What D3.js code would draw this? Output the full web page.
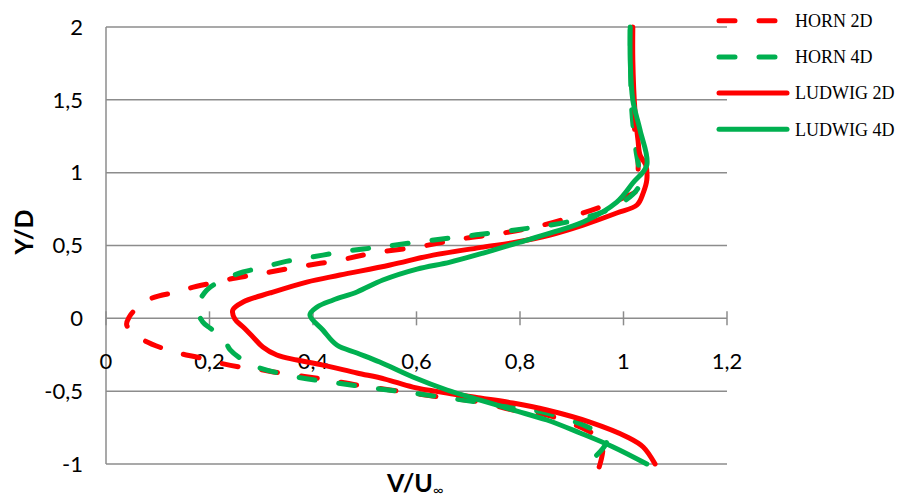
<!DOCTYPE html>
<html><head><meta charset="utf-8">
<script src="https://cdn.jsdelivr.net/npm/d3@7"></script>
<style>body{margin:0;background:#fff}svg{display:block}</style>
</head><body><svg id="c" width="899" height="500"></svg>
<script>
const xTicks = [0, 0.2, 0.4, 0.6, 0.8, 1, 1.2];
const yTicks = [-1, -0.5, 0, 0.5, 1, 1.5, 2];
const seriesNames = ["HORN 2D", "HORN 4D", "LUDWIG 2D", "LUDWIG 4D"];

// [V/U, Y/D] pairs
const horn2D = [[0.953,-1.02],[0.960,-0.882],[0.949,-0.814],[0.916,-0.746],[0.852,-0.664],[0.786,-0.629],[0.723,-0.574],[0.659,-0.547],[0.549,-0.492],[0.485,-0.458],[0.419,-0.417],[0.336,-0.375],[0.292,-0.348],[0.259,-0.334],[0.220,-0.307],[0.182,-0.272],[0.139,-0.238],[0.108,-0.204],[0.066,-0.135],[0.040,-0.046],[0.045,0.010],[0.060,0.071],[0.089,0.139],[0.137,0.181],[0.162,0.208],[0.214,0.249],[0.240,0.270],[0.284,0.297],[0.317,0.318],[0.369,0.352],[0.452,0.400],[0.516,0.448],[0.601,0.489],[0.684,0.544],[0.767,0.585],[0.844,0.640],[0.922,0.723],[0.999,0.826],[1.026,0.881],[1.028,0.984],[1.028,1.087],[1.024,1.224],[1.018,1.430],[1.016,2.0]];
const horn4D = [[0.948,-0.94],[0.968,-0.835],[0.935,-0.753],[0.852,-0.650],[0.786,-0.609],[0.690,-0.561],[0.593,-0.513],[0.529,-0.485],[0.446,-0.444],[0.369,-0.403],[0.292,-0.334],[0.265,-0.286],[0.240,-0.217],[0.226,-0.128],[0.201,-0.067],[0.187,-0.025],[0.176,0.071],[0.195,0.194],[0.226,0.263],[0.265,0.318],[0.298,0.345],[0.342,0.386],[0.375,0.407],[0.419,0.434],[0.452,0.455],[0.497,0.476],[0.529,0.489],[0.587,0.517],[0.665,0.551],[0.742,0.585],[0.819,0.620],[0.891,0.661],[0.960,0.730],[0.999,0.798],[1.028,0.894],[1.032,0.962],[1.024,1.155],[1.016,1.430],[1.013,2.0]];
const ludwig2D = [[1.061,-1.0],[1.038,-0.883],[1.007,-0.814],[0.935,-0.712],[0.852,-0.629],[0.786,-0.581],[0.723,-0.547],[0.659,-0.513],[0.593,-0.472],[0.539,-0.417],[0.485,-0.375],[0.419,-0.321],[0.369,-0.286],[0.330,-0.252],[0.303,-0.197],[0.284,-0.128],[0.265,-0.060],[0.249,-0.005],[0.245,0.057],[0.265,0.112],[0.317,0.174],[0.388,0.249],[0.452,0.297],[0.549,0.366],[0.632,0.434],[0.729,0.489],[0.794,0.524],[0.858,0.572],[0.922,0.640],[0.987,0.723],[1.026,0.778],[1.038,0.860],[1.045,0.949],[1.043,1.052],[1.032,1.121],[1.028,1.224],[1.022,1.430],[1.018,1.773],[1.018,2.0]];
const ludwig4D = [[1.045,-1.0],[0.980,-0.883],[0.916,-0.787],[0.852,-0.698],[0.786,-0.629],[0.723,-0.561],[0.659,-0.492],[0.593,-0.403],[0.529,-0.300],[0.485,-0.238],[0.446,-0.183],[0.419,-0.080],[0.394,0.023],[0.408,0.078],[0.439,0.126],[0.485,0.181],[0.535,0.263],[0.601,0.338],[0.665,0.386],[0.729,0.448],[0.794,0.517],[0.858,0.585],[0.922,0.661],[0.987,0.798],[1.018,0.929],[1.045,1.052],[1.032,1.292],[1.018,1.498],[1.013,1.773],[1.013,2.0]];

const series = [
  {name: seriesNames[0], data: horn2D, color: "#FF0000", dash: true},
  {name: seriesNames[1], data: horn4D, color: "#00B050", dash: true},
  {name: seriesNames[2], data: ludwig2D, color: "#FF0000", dash: false},
  {name: seriesNames[3], data: ludwig4D, color: "#00B050", dash: false}
];

const svg = d3.select("#c");
const x = d3.scaleLinear().domain([0, 1.2]).range([106, 727]);
const y = d3.scaleLinear().domain([-1, 2]).range([464, 27]);
const fmt = d => String(d).replace(".", ",");
const tickFont = "Lato, 'Open Sans', sans-serif";
const grid = "#8c8c8c";

// horizontal gridlines
svg.append("g").selectAll("line").data(yTicks).join("line")
  .attr("x1", x(0)).attr("x2", x(1.2))
  .attr("y1", d => y(d)).attr("y2", d => y(d))
  .attr("stroke", grid).attr("stroke-width", 1.5);
// vertical axis line
svg.append("line").attr("x1", x(0)).attr("x2", x(0)).attr("y1", y(2)).attr("y2", y(-1))
  .attr("stroke", grid).attr("stroke-width", 1.5);
// ticks crossing the x axis (at y=0)
svg.append("g").selectAll("line").data(xTicks).join("line")
  .attr("x1", d => x(d)).attr("x2", d => x(d))
  .attr("y1", y(0) - 7).attr("y2", y(0) + 7)
  .attr("stroke", grid).attr("stroke-width", 1.5);

// y tick labels
svg.append("g").selectAll("text").data(yTicks).join("text")
  .attr("x", 83).attr("y", d => y(d)).attr("dy", "0.35em")
  .attr("text-anchor", "end").attr("font-family", tickFont).attr("font-size", 22)
  .attr("fill", "#000").text(fmt);
// x tick labels
svg.append("g").selectAll("text").data(xTicks).join("text")
  .attr("x", d => x(d)).attr("y", y(0) + 43).attr("dy", "0.35em")
  .attr("text-anchor", "middle").attr("font-family", tickFont).attr("font-size", 22)
  .attr("fill", "#000").text(fmt);

// axis titles
svg.append("text").attr("transform", "translate(33,232) rotate(-90)")
  .attr("text-anchor", "middle").attr("font-family", tickFont).attr("font-weight", "bold")
  .attr("font-size", 25).text("Y/D");
const xt = svg.append("text").attr("x", 387).attr("y", 492)
  .attr("text-anchor", "start").attr("font-family", tickFont).attr("font-weight", "bold")
  .attr("font-size", 25);
xt.append("tspan").text("V/U");
xt.append("tspan").attr("font-size", 14).attr("font-weight", "normal").attr("dy", 3).text("∞");

// curves
const line = d3.line().x(d => x(d[0])).y(d => y(d[1])).curve(d3.curveCatmullRom.alpha(0.5));
svg.append("g").selectAll("path").data(series).join("path")
  .attr("d", d => line(d.data))
  .attr("fill", "none").attr("stroke", d => d.color).attr("stroke-width", 5)
  .attr("stroke-linecap", "round").attr("stroke-linejoin", "round")
  .attr("stroke-dasharray", d => d.dash ? "16,24" : null);

// legend
const lg = svg.append("g").selectAll("g").data(series).join("g")
  .attr("transform", (d, i) => `translate(0,${20.7 + i * 36.2})`);
lg.append("line").attr("x1", 719).attr("x2", 787).attr("y1", 0).attr("y2", 0)
  .attr("stroke", d => d.color).attr("stroke-width", 5).attr("stroke-linecap", "round")
  .attr("stroke-dasharray", d => d.dash ? "16,24" : null);
lg.append("text").attr("x", 795).attr("y", 0).attr("dy", "0.35em")
  .attr("font-family", "'Liberation Serif', 'Times New Roman', serif").attr("font-size", 18)
  .text(d => d.name);
</script></body></html>
